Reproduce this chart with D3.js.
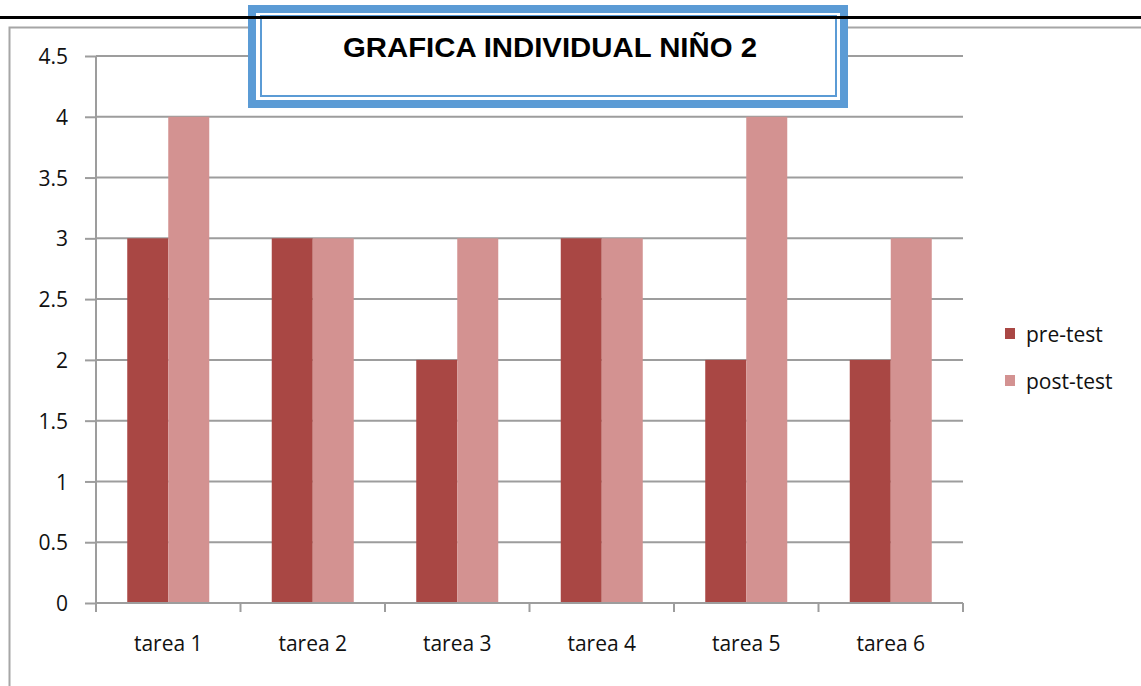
<!DOCTYPE html>
<html>
<head>
<meta charset="utf-8">
<script src="https://cdn.jsdelivr.net/npm/d3@7"></script>
<style>
  body { margin: 0; background: #fff; }
  svg { display: block; }
</style>
</head>
<body>
<svg></svg>
<script>
//DATA
var categories = ['tarea 1', 'tarea 2', 'tarea 3', 'tarea 4', 'tarea 5', 'tarea 6'];
var seriesNames = ['pre-test', 'post-test'];
var preTest = [3, 3, 2, 3, 2, 2];
var postTest = [4, 3, 3, 3, 4, 3];
var yTicks = [0, 0.5, 1, 1.5, 2, 2.5, 3, 3.5, 4, 4.5];
var title = 'GRAFICA INDIVIDUAL NIÑO 2';

var colors = ['#A94744', '#D39291'];
var gridColor = '#9d9d9d';
var labelFont = 'Open Sans';

//SVG SETUP
var w = 1141,
    h = 686;

var svg = d3.select('svg')
    .attr('width', w)
    .attr('height', h);

//OUTER CHART BORDER
svg.append('rect')
    .attr('x', 9.5)
    .attr('y', 27.5)
    .attr('width', 1200)
    .attr('height', 800)
    .attr('fill', 'none')
    .attr('stroke', '#a6a6a6')
    .attr('stroke-width', 2);

//SCALES
var x0 = d3.scaleBand()
    .domain(categories)
    .range([96, 963])
    .padding(0);

var x1 = d3.scaleBand()
    .domain(seriesNames)
    .range([0, x0.bandwidth()])
    .paddingInner(0)
    .paddingOuter(0.762);

var yScale = d3.scaleLinear()
    .domain([0, 4.5])
    .range([603, 56]);

//GRIDLINES
svg.append('g')
    .selectAll('line')
    .data(yTicks.filter(function(d) { return d > 0; }))
    .enter()
    .append('line')
    .attr('x1', 96)
    .attr('x2', 963)
    .attr('y1', function(d) { return yScale(d); })
    .attr('y2', function(d) { return yScale(d); })
    .attr('stroke', gridColor)
    .attr('stroke-width', 2);

//BARS
var rows = categories.map(function(c, i) {
    return { cat: c, values: [preTest[i], postTest[i]] };
});

var groups = svg.append('g')
    .selectAll('g')
    .data(rows)
    .enter()
    .append('g')
    .attr('transform', function(d) { return 'translate(' + x0(d.cat) + ',0)'; });

groups.selectAll('rect')
    .data(function(d) {
        return d.values.map(function(v, j) { return { key: seriesNames[j], value: v, j: j }; });
    })
    .enter()
    .append('rect')
    .attr('x', function(d) { return x1(d.key); })
    .attr('width', x1.bandwidth())
    .attr('y', function(d) { return yScale(d.value); })
    .attr('height', function(d) { return yScale(0) - yScale(d.value); })
    .attr('fill', function(d) { return colors[d.j]; });

//Y AXIS
var yAxis = d3.axisLeft(yScale)
    .tickValues(yTicks)
    .tickSize(11)
    .tickPadding(17)
    .tickFormat(d3.format(''));

var yG = svg.append('g')
    .attr('transform', 'translate(96,0)')
    .call(yAxis);

//X AXIS
var xAxis = d3.axisBottom(x0)
    .tickSize(0)
    .tickPadding(44);

var xG = svg.append('g')
    .attr('transform', 'translate(0,603)')
    .call(xAxis);

// ticks between categories
xG.selectAll('.sep')
    .data(d3.range(categories.length + 1))
    .enter()
    .append('line')
    .attr('class', 'sep')
    .attr('x1', function(i) { return 96 + i * x0.step(); })
    .attr('x2', function(i) { return 96 + i * x0.step(); })
    .attr('y1', 0)
    .attr('y2', 9)
    .attr('stroke', gridColor)
    .attr('stroke-width', 2);

svg.selectAll('.domain')
    .attr('stroke', gridColor)
    .attr('stroke-width', 2);
yG.select('.domain').attr('d', 'M0,56V603');
xG.select('.domain').attr('d', 'M96,0H963');

svg.selectAll('.tick line')
    .attr('stroke', gridColor)
    .attr('stroke-width', 2);

svg.selectAll('.tick text')
    .attr('font-family', labelFont)
    .attr('font-size', 21)
    .attr('fill', '#111');

yG.selectAll('.tick text').attr('dy', '0.36em');
xG.selectAll('.tick text').attr('dy', '0.2em');

//LEGEND
var legend = svg.append('g')
    .selectAll('g')
    .data(seriesNames)
    .enter()
    .append('g')
    .attr('transform', function(d, i) { return 'translate(1005,' + (328 + i * 47) + ')'; });

legend.append('rect')
    .attr('width', 10)
    .attr('height', 11)
    .attr('fill', function(d, i) { return colors[i]; });

legend.append('text')
    .text(function(d) { return d; })
    .attr('x', 21)
    .attr('y', 6)
    .attr('dy', '0.36em')
    .attr('font-family', labelFont)
    .attr('font-size', 21)
    .attr('fill', '#111');

//TITLE BOX
var titleBox = svg.append('g');

titleBox.append('rect')
    .attr('x', 252)
    .attr('y', 9)
    .attr('width', 592)
    .attr('height', 95)
    .attr('fill', '#fff')
    .attr('stroke', '#5B9BD5')
    .attr('stroke-width', 8);

titleBox.append('rect')
    .attr('x', 261)
    .attr('y', 16)
    .attr('width', 575)
    .attr('height', 80)
    .attr('fill', 'none')
    .attr('stroke', '#5B9BD5')
    .attr('stroke-width', 2);

titleBox.append('text')
    .text(title)
    .attr('x', 550)
    .attr('y', 57)
    .attr('text-anchor', 'middle')
    .attr('font-family', 'Liberation Sans, Arial, sans-serif')
    .attr('font-weight', 'bold')
    .attr('font-size', 27)
    .attr('textLength', 414)
    .attr('lengthAdjust', 'spacingAndGlyphs')
    .attr('fill', '#000');

//PAGE LINE
svg.append('line')
    .attr('x1', 0)
    .attr('x2', w)
    .attr('y1', 17.5)
    .attr('y2', 17.5)
    .attr('stroke', '#000')
    .attr('stroke-width', 3);
</script>
</body>
</html>
